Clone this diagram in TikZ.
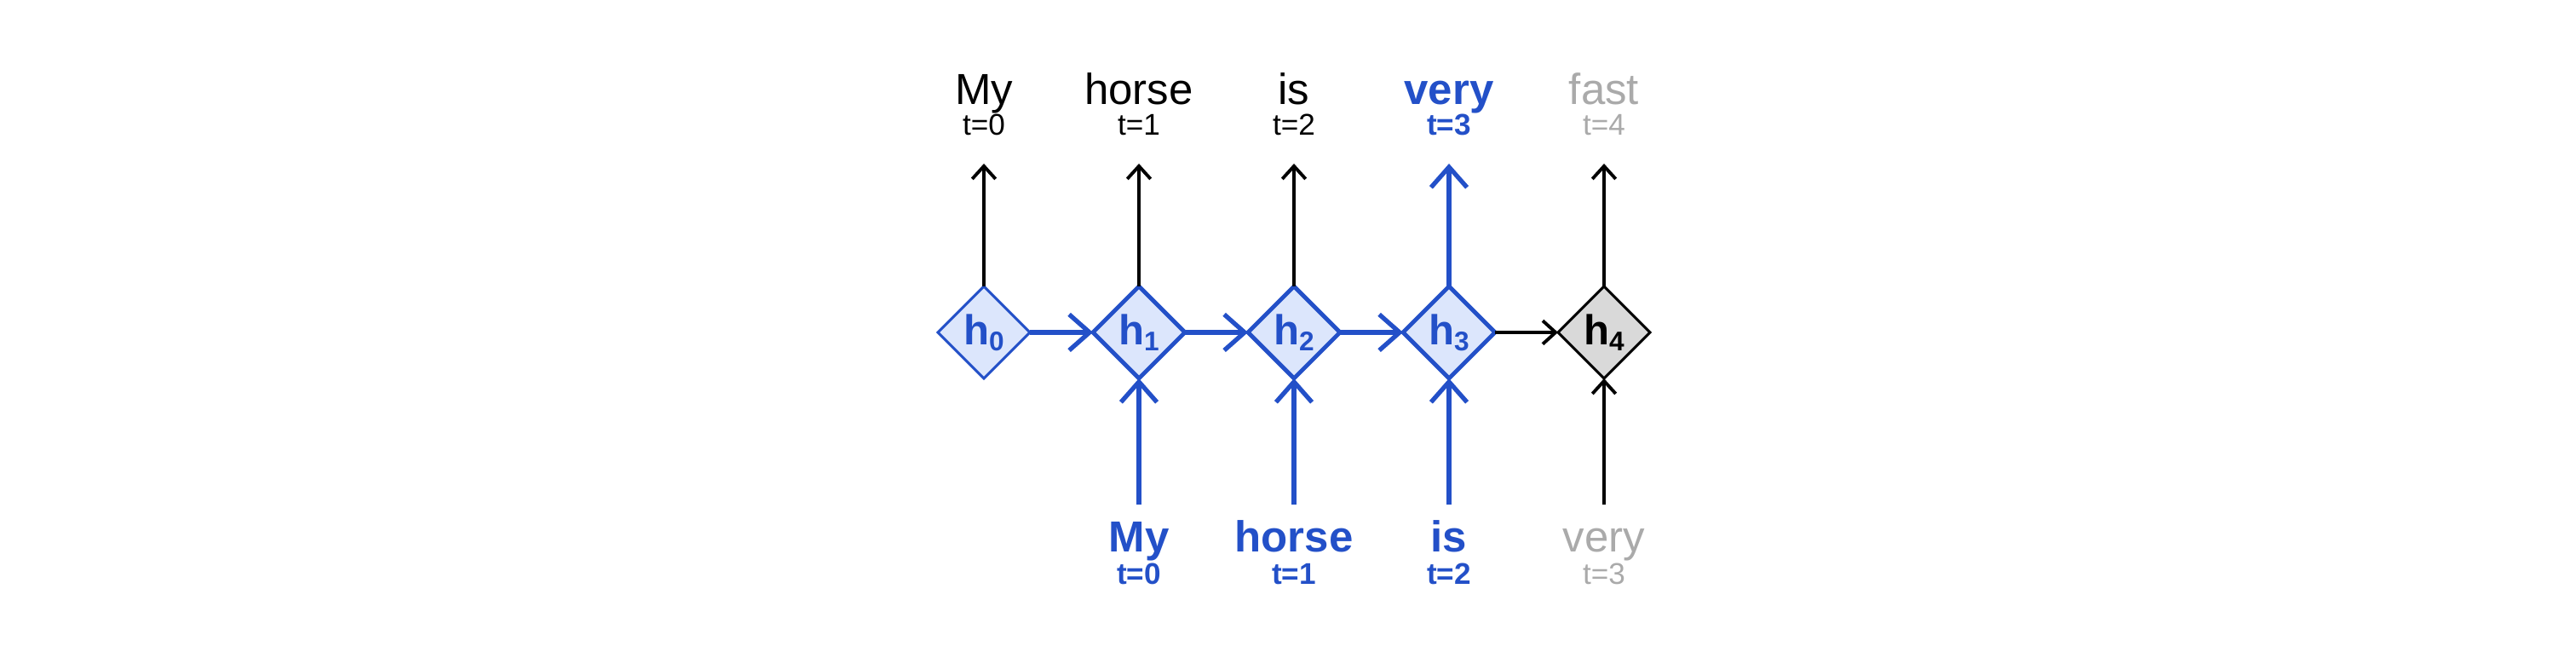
\documentclass[tikz,border=0pt]{standalone}
\usepackage{fontspec}
\setmainfont{Liberation Sans}
\usepackage{tikz}
\usetikzlibrary{positioning}
\usetikzlibrary{arrows.meta}
\usetikzlibrary{shapes.geometric}

\definecolor{rnnblue}{HTML}{2350C8}
\definecolor{rnnfill}{HTML}{DCE6FC}
\definecolor{rnngray}{HTML}{D9D9D9}
\definecolor{fadegray}{HTML}{AAAAAA}

\newcommand{\hsub}[1]{h\raisebox{-2pt}{\fontsize{9}{9}\selectfont #1}}

\tikzset{
  cell/.style={diamond, draw=rnnblue, fill=rnnfill, text=rnnblue, line width=1.4pt,
    minimum width=1.08cm, minimum height=1.08cm, inner sep=0pt, outer sep=0pt,
    font=\fontsize{14}{14}\selectfont\bfseries},
  bigarrow/.style={draw=rnnblue, line width=1.5pt, -{Straight Barb[length=6.8pt,width=12pt]}},
  smallarrow/.style={draw=black, line width=1.1pt, -{Straight Barb[length=4.3pt,width=7.8pt]}},
  word/.style={anchor=base, inner sep=0pt, font=\fontsize{14.5}{14.5}\selectfont},
  stamp/.style={anchor=base, inner sep=0pt, font=\fontsize{10}{10}\selectfont}
}

\begin{document}
\begin{tikzpicture}
    \useasboundingbox (0,0) rectangle (30.24,7.72);
    % hidden states
    \node[cell, line width=0.85pt] (h0) at (11.55,3.82) {\hsub{0}};
    \node[cell] (h1) at (13.37,3.82) {\hsub{1}};
    \node[cell] (h2) at (15.19,3.82) {\hsub{2}};
    \node[cell] (h3) at (17.01,3.82) {\hsub{3}};
    \node[cell, draw=black, fill=rnngray, text=black, line width=0.85pt] (h4) at (18.83,3.82) {\hsub{4}};
    \draw[bigarrow] (h0.east) -- (h1.west);
    \draw[bigarrow] (h1.east) -- (h2.west);
    \draw[bigarrow] (h2.east) -- (h3.west);
    \draw[smallarrow] (h3.east) -- (h4.west);
    % outputs
    \node[word] (y0) at (11.55,6.49) {My};
    \node[stamp] (ty0) at (11.55,6.13) {t=0};
    \node[word] (y1) at (13.37,6.49) {horse};
    \node[stamp] (ty1) at (13.37,6.13) {t=1};
    \node[word] (y2) at (15.19,6.49) {is};
    \node[stamp] (ty2) at (15.19,6.13) {t=2};
    \node[word, text=rnnblue, font=\fontsize{14.5}{14.5}\selectfont\bfseries] (y3) at (17.01,6.49) {very};
    \node[stamp, text=rnnblue, font=\fontsize{10}{10}\selectfont\bfseries] (ty3) at (17.01,6.13) {t=3};
    \node[word, text=fadegray] (y4) at (18.83,6.49) {fast};
    \node[stamp, text=fadegray] (ty4) at (18.83,6.13) {t=4};
    \coordinate (o0) at (11.55,5.80);
    \coordinate (o1) at (13.37,5.80);
    \coordinate (o2) at (15.19,5.80);
    \coordinate (o3) at (17.01,5.80);
    \coordinate (o4) at (18.83,5.80);
    \draw[smallarrow] (h0.north) -- (o0);
    \draw[smallarrow] (h1.north) -- (o1);
    \draw[smallarrow] (h2.north) -- (o2);
    \draw[bigarrow] (h3.north) -- (o3);
    \draw[smallarrow] (h4.north) -- (o4);
    % inputs
    \node[word, text=rnnblue, font=\fontsize{14.5}{14.5}\selectfont\bfseries] (x1) at (13.37,1.24) {My};
    \node[stamp, text=rnnblue, font=\fontsize{10}{10}\selectfont\bfseries] (tx1) at (13.37,0.86) {t=0};
    \node[word, text=rnnblue, font=\fontsize{14.5}{14.5}\selectfont\bfseries] (x2) at (15.19,1.24) {horse};
    \node[stamp, text=rnnblue, font=\fontsize{10}{10}\selectfont\bfseries] (tx2) at (15.19,0.86) {t=1};
    \node[word, text=rnnblue, font=\fontsize{14.5}{14.5}\selectfont\bfseries] (x3) at (17.01,1.24) {is};
    \node[stamp, text=rnnblue, font=\fontsize{10}{10}\selectfont\bfseries] (tx3) at (17.01,0.86) {t=2};
    \node[word, text=fadegray] (x4) at (18.83,1.24) {very};
    \node[stamp, text=fadegray] (tx4) at (18.83,0.86) {t=3};
    \coordinate (i1) at (13.37,1.80);
    \coordinate (i2) at (15.19,1.80);
    \coordinate (i3) at (17.01,1.80);
    \coordinate (i4) at (18.83,1.80);
    \draw[bigarrow] (i1) -- (h1.south);
    \draw[bigarrow] (i2) -- (h2.south);
    \draw[bigarrow] (i3) -- (h3.south);
    \draw[smallarrow] (i4) -- (h4.south);
\end{tikzpicture}
\end{document}
